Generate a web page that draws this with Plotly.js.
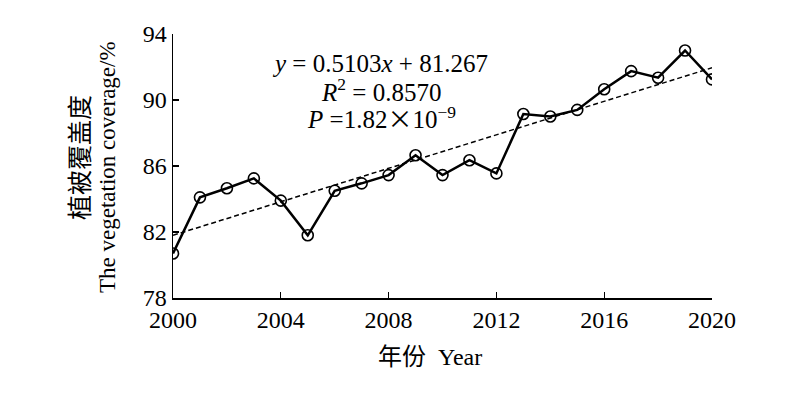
<!DOCTYPE html>
<html>
<head>
<meta charset="utf-8">
<script src="https://cdn.plot.ly/plotly-3.0.1.min.js"></script>
<style>html,body{margin:0;padding:0;background:#fff;}#chart{width:800px;height:395px;}</style>
</head>
<body>
<div id="chart"></div>
<script>
const years = [2000,2001,2002,2003,2004,2005,2006,2007,2008,2009,2010,2011,2012,2013,2014,2015,2016,2017,2018,2019,2020];
const coverage = [80.7,84.1,84.65,85.25,83.9,81.8,84.5,84.95,85.45,86.65,85.45,86.35,85.55,89.15,89.0,89.4,90.65,91.75,91.35,93.0,91.25];
const trendYears = [2000, 2020];
const trendValues = [81.8, 91.95];
const xTicks = [2000,2004,2008,2012,2016,2020];
const yTicks = [78,82,86,90,94];

const serif = '"Liberation Serif", "Times New Roman", "Noto Sans CJK SC", serif';
const cjk = '"Noto Sans CJK SC", "Liberation Serif", serif';

const data = [
  {x: trendYears, y: trendValues, mode: 'lines', type: 'scatter',
   line: {color: '#000', width: 1.5, dash: '5px,3px'}, hoverinfo: 'skip', showlegend: false},
  {x: years, y: coverage, mode: 'lines+markers', type: 'scatter',
   line: {color: '#000', width: 2.5},
   marker: {symbol: 'circle-open', size: 11, color: '#000', line: {width: 1.6, color: '#000'}},
   showlegend: false}
];

const PT = 34, PB = 298, PL = 173, PR = 712, H = 395, W = 800;
function paperY(pix) { return (PB - pix) / (PB - PT); }
function paperX(pix) { return (pix - PL) / (PR - PL); }

const layout = {
  width: W, height: H,
  margin: {l: PL, r: W - PR, t: PT, b: H - PB},
  paper_bgcolor: '#fff', plot_bgcolor: '#fff',
  font: {family: serif, size: 24, color: '#000'},
  xaxis: {
    range: [2000, 2020], tickvals: xTicks, ticktext: xTicks.map(String),
    ticks: 'inside', ticklen: 6, tickwidth: 1.2, tickcolor: '#000',
    showline: true, linecolor: '#000', linewidth: 1.5, mirror: false,
    showgrid: false, zeroline: false,
    tickfont: {family: serif, size: 24, color: '#000'}
  },
  yaxis: {
    range: [78, 94], tickvals: yTicks, ticktext: yTicks.map(String),
    ticksuffix: '\u2002',
    ticks: 'inside', ticklen: 6, tickwidth: 1.2, tickcolor: '#000',
    showline: true, linecolor: '#000', linewidth: 1.5, mirror: false,
    showgrid: false, zeroline: false,
    tickfont: {family: serif, size: 24, color: '#000'}
  },
  annotations: [
    {xref: 'paper', yref: 'paper', x: paperX(380), y: paperY(63), xanchor: 'center', yanchor: 'middle',
     showarrow: false, text: '<i>y</i> = 0.5103<i>x</i> + 81.267', font: {family: serif, size: 25, color: '#000'}},
    {xref: 'paper', yref: 'paper', x: paperX(381), y: paperY(90), xanchor: 'center', yanchor: 'middle',
     showarrow: false, text: '<i>R</i><sup>2</sup> = 0.8570', font: {family: serif, size: 25, color: '#000'}},
    {xref: 'paper', yref: 'paper', x: paperX(381), y: paperY(117), xanchor: 'center', yanchor: 'middle',
     showarrow: false, text: '<i>P</i> =1.82<span style="font-family:\'Noto Sans CJK SC\'">×</span>10<sup>−9</sup>', font: {family: serif, size: 25, color: '#000'}},
    {xref: 'paper', yref: 'paper', x: paperX(430), y: paperY(357), xanchor: 'center', yanchor: 'middle',
     showarrow: false, text: '年份  Year', font: {family: serif, size: 24, color: '#000'}},
    {xref: 'paper', yref: 'paper', x: paperX(78), y: paperY(158), xanchor: 'center', yanchor: 'middle',
     showarrow: false, textangle: -90, text: '植被覆盖度', font: {family: cjk, size: 25, color: '#000'}},
    {xref: 'paper', yref: 'paper', x: paperX(107), y: paperY(167), xanchor: 'center', yanchor: 'middle',
     showarrow: false, textangle: -90, text: 'The vegetation coverage/%', font: {family: serif, size: 23, color: '#000'}}
  ]
};

Plotly.newPlot('chart', data, layout, {displayModeBar: false, staticPlot: true});
</script>
</body>
</html>
